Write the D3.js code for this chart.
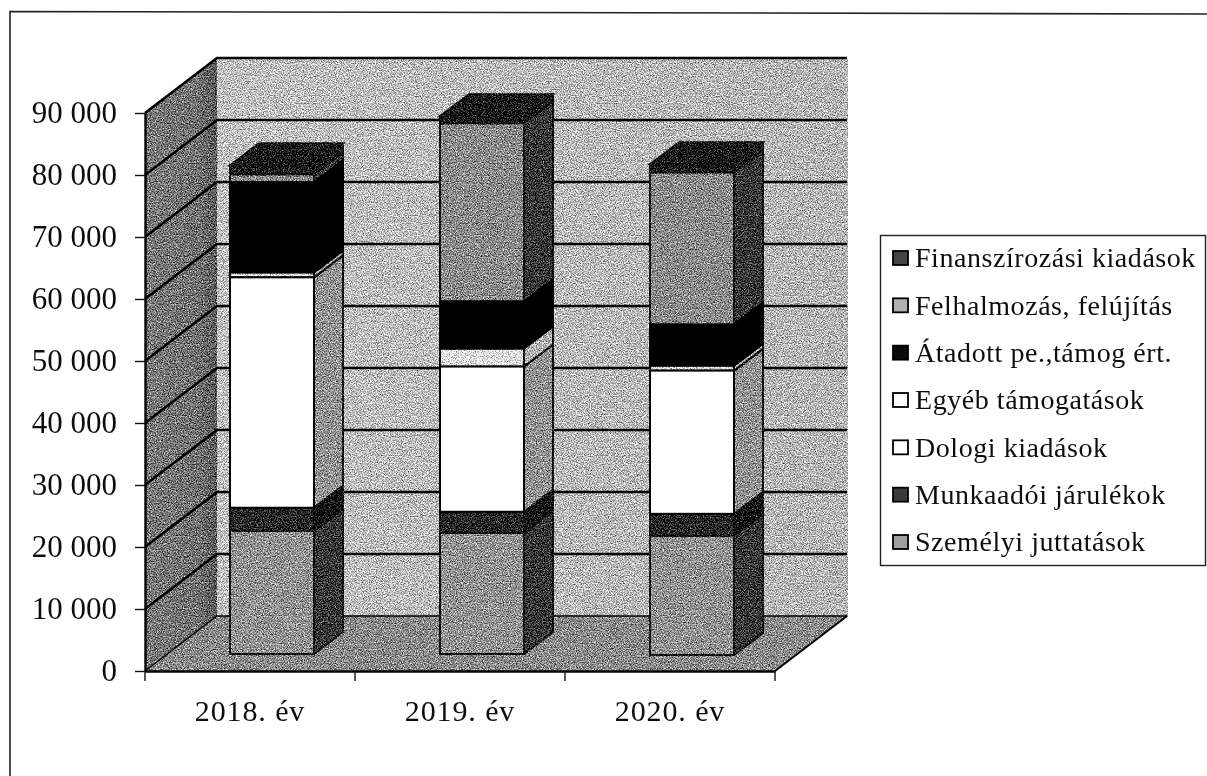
<!DOCTYPE html>
<html><head><meta charset="utf-8">
<script src="https://cdnjs.cloudflare.com/ajax/libs/d3/7.8.5/d3.min.js"></script>
<style>html,body{margin:0;background:#fff}svg{display:block}text{font-family:"Liberation Serif",serif;fill:#111}</style>
</head><body><svg id="c" width="1207" height="776"></svg>
<script>
const categories = ["2018. év","2019. év","2020. év"];
const yTicks = [0,10000,20000,30000,40000,50000,60000,70000,80000,90000];
const seriesNames = ["Személyi juttatások","Munkaadói járulékok","Dologi kiadások","Egyéb támogatások","Átadott pe.,támog ért.","Felhalmozás, felújítás","Finanszírozási kiadások"];
const szemelyi = [19870,19550,19220];
const munkaadoi = [3720,3390,3550];
const dologi = [37160,23420,23100];
const egyeb = [800,2910,810];
const atadott = [14540,7590,6620];
const felhalmozas = [1290,28760,24560];
const finanszirozasi = [1450,1130,1290];
const seriesValues = [szemelyi,munkaadoi,dologi,egyeb,atadott,felhalmozas,finanszirozasi];
const frontColors = ["#929292","#222222","#ffffff","#e4e4e4","#000000","#8a8a8a","#141414"];
const sideColors  = ["#343434","#060606","#929292","#b4b4b4","#000000","#343434","#141414"];
const legendColors= ["#a0a0a0","#3a3a3a","#ffffff","#ffffff","#0a0a0a","#b0b0b0","#444444"];
const cleanSeries = [2,4];

const svg = d3.select("#c");
const defs = svg.append("defs");
const f = defs.append("filter").attr("id","scan")
  .attr("filterUnits","userSpaceOnUse").attr("color-interpolation-filters","sRGB")
  .attr("x",0).attr("y",0).attr("width",1207).attr("height",776);
f.append("feTurbulence").attr("type","fractalNoise").attr("baseFrequency",0.85).attr("numOctaves",2).attr("seed",7).attr("result","n");
f.append("feColorMatrix").attr("in","n").attr("type","matrix")
  .attr("values","1 0 0 0 0 1 0 0 0 0 1 0 0 0 0 0 0 0 0 1").attr("result","g");
f.append("feComposite").attr("in","SourceGraphic").attr("in2","g").attr("operator","arithmetic")
  .attr("k1",0).attr("k2",1).attr("k3",1.45).attr("k4",-0.725).attr("result","h");
f.append("feComposite").attr("in","h").attr("in2","SourceGraphic").attr("operator","in");
const soft = defs.append("filter").attr("id","soft");
soft.append("feGaussianBlur").attr("stdDeviation",0.35);
const lg = defs.append("linearGradient").attr("id","leftWall");
lg.append("stop").attr("offset","0").attr("stop-color","#7a7a7a");
lg.append("stop").attr("offset","0.75").attr("stop-color","#707070");
lg.append("stop").attr("offset","1").attr("stop-color","#585858");
const bg = defs.append("linearGradient").attr("id","backWall");
bg.append("stop").attr("offset","0").attr("stop-color","#c2c2c2");
bg.append("stop").attr("offset","1").attr("stop-color","#b6b6b6");

const fmt = v => d3.format(",")(v).replace(/,/g," ");
const X0=145, X1=775, Y0=671, Y90=113, DX=72, DY=55;
const BDX=22, BDY=17, SX=29, SY=22;

const y = d3.scaleLinear().domain([0,90000]).range([Y0,Y90]);
const xAxisScale = d3.scaleBand().domain(categories).range([X0,X1]);
const xBar = d3.scaleBand().domain(categories).range([X0+BDX,X1+BDX]).paddingInner(0.6).paddingOuter(0.3);
const line = d3.line();

// frame
svg.append("path").attr("d","M10,776 L10,11.5 L1207,14").attr("fill","none").attr("stroke","#222").attr("stroke-width",1.6);

const g3 = svg.append("g").attr("filter","url(#scan)");
const yTop=y(90000), yBot=y(0);
g3.append("path").attr("d",line([[X0,yBot],[X0,yTop],[X0+DX,yTop-DY],[X0+DX,yBot-DY]])+"Z").attr("fill","url(#leftWall)");
g3.append("rect").attr("x",X0+DX).attr("y",yTop-DY).attr("width",X1-X0+1).attr("height",yBot-yTop).attr("fill","url(#backWall)");
g3.append("path").attr("d",line([[X0,yBot],[X0+DX,yBot-DY],[X1+DX+1,yBot-DY],[X1,yBot]])+"Z").attr("fill","#8a8a8a");

const clean = svg.append("g");
// gridlines and plot edges
clean.selectAll(".grid").data(yTicks.slice(1)).join("path").attr("class","grid")
  .attr("d",d=>line([[X0,y(d)],[X0+DX,y(d)-DY],[X1+DX,y(d)-DY]]))
  .attr("fill","none").attr("stroke","#000").attr("stroke-width",2.6);
clean.append("path").attr("d",line([[X0,yBot],[X0+DX,yBot-DY],[X1+DX,yBot-DY]])).attr("fill","none").attr("stroke","#000").attr("stroke-width",1.4);
clean.append("path").attr("d",line([[X1,yBot],[X1+DX,yBot-DY]])).attr("fill","none").attr("stroke","#000").attr("stroke-width",2);

// bars
const barsNoisy = svg.append("g").attr("filter","url(#scan)");
const barsClean = svg.append("g");
categories.forEach((c,i)=>{
  let cum=0;
  const x=xBar(c), w=xBar.bandwidth();
  const lift = i===2 ? BDY-1 : BDY;
  seriesValues.forEach((vals,s)=>{
    const v=vals[i], ya=y(cum)-lift, yb=y(cum+v)-lift;
    const isClean = cleanSeries.includes(s);
    (s===4?barsClean:barsNoisy).append("path").attr("d",line([[x+w,ya],[x+w+SX,ya-SY],[x+w+SX,yb-SY],[x+w,yb]])+"Z")
      .attr("fill",sideColors[s]).attr("stroke","#000").attr("stroke-width",2).attr("stroke-linejoin","round");
    (isClean?barsClean:barsNoisy).append("rect").attr("x",x).attr("y",yb).attr("width",w).attr("height",ya-yb)
      .attr("fill",frontColors[s]).attr("stroke","#000").attr("stroke-width",2);
    cum+=v;
    if(s===seriesValues.length-1){
      barsNoisy.append("path").attr("d",line([[x,yb],[x+SX,yb-SY],[x+w+SX,yb-SY],[x+w,yb]])+"Z")
       .attr("fill","#101010").attr("stroke","#000").attr("stroke-width",2);
    }
  });
});

// axes
const yAxis = d3.axisLeft(y).tickValues(yTicks).tickFormat(fmt).tickSize(10).tickPadding(18).tickSizeOuter(0);
const ga = svg.append("g").attr("transform",`translate(${X0},0)`).call(yAxis);
ga.select(".domain").attr("stroke","#000").attr("stroke-width",2.4);
ga.selectAll(".tick line").attr("stroke","#111").attr("stroke-width",1.4);
ga.selectAll("text").attr("font-size",31).attr("font-family","Liberation Serif").attr("fill","#111").attr("filter","url(#soft)");

const xAxis = d3.axisBottom(xAxisScale).tickSize(0).tickPadding(29).tickSizeOuter(0);
const gx = svg.append("g").attr("transform",`translate(0,${Y0})`).call(xAxis);
gx.select(".domain").attr("stroke","#000").attr("stroke-width",2.6);
gx.selectAll("text").attr("font-size",30).attr("font-family","Liberation Serif").attr("fill","#111").attr("letter-spacing",0.9).attr("filter","url(#soft)");
gx.selectAll(".edge").data(d3.range(categories.length+1)).join("line").attr("class","edge")
  .attr("x1",d=>X0+d*xAxisScale.step()).attr("x2",d=>X0+d*xAxisScale.step())
  .attr("y1",0).attr("y2",10).attr("stroke","#111").attr("stroke-width",1.4);

// legend
const lx=880, ly=235;
const lg2=svg.append("g");
lg2.append("rect").attr("x",lx+.5).attr("y",ly+.5).attr("width",325).attr("height",330).attr("fill","#fff").attr("stroke","#222").attr("stroke-width",1.4);
const legY=d3.scalePoint().domain(d3.range(7)).range([258,542]);
const order=d3.range(6,-1,-1);
order.forEach((s,k)=>{
  const yy=legY(k);
  lg2.append("rect").attr("x",893).attr("y",yy-7).attr("width",15).attr("height",14)
    .attr("fill",legendColors[s]).attr("stroke","#000").attr("stroke-width",1.8);
  lg2.append("text").attr("x",915).attr("y",yy).attr("dy","0.33em").attr("font-size",28).attr("letter-spacing",0.55).attr("filter","url(#soft)").text(seriesNames[s]);
});
</script></body></html>
